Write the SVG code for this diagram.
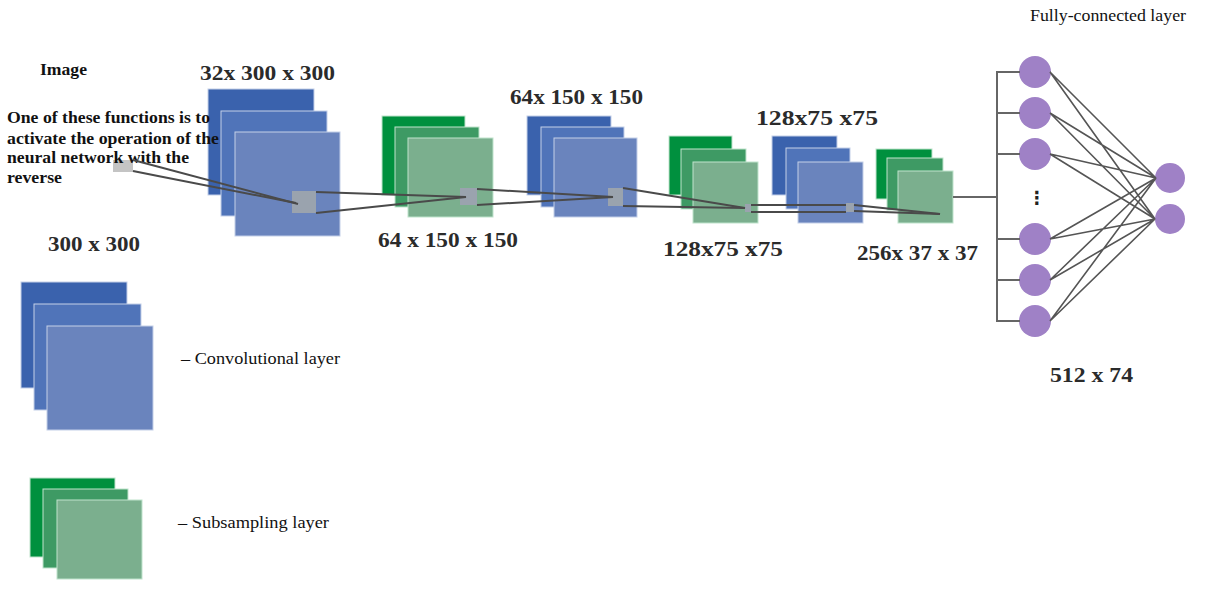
<svg xmlns="http://www.w3.org/2000/svg" width="1207" height="594" viewBox="0 0 1207 594">
<style>
.b1{fill:#3A62AD;stroke:#c3cfe8;stroke-width:1}
.b2{fill:#5074B9;stroke:#c3cfe8;stroke-width:1}
.b3{fill:#6A84BD;stroke:#c3cfe8;stroke-width:1}
.g1{fill:#00903E;stroke:#bfe3cc;stroke-width:1}
.g2{fill:#3E9A64;stroke:#bfe3cc;stroke-width:1}
.g3{fill:#7BAF8E;stroke:#bfe3cc;stroke-width:1}
.k{fill:#9AA3AE}
.ln{stroke:#4a4a4a;stroke-width:2;fill:none}
.fc{stroke:#555;stroke-width:1.6;fill:none}
.br{stroke:#666;stroke-width:2;fill:none}
.n{fill:#9F81C6}
text{font-family:'Liberation Serif','Times New Roman',Times,serif}
.h{font-weight:bold;font-size:20px;fill:#2b2b2b}
.t{font-weight:bold;font-size:16px;fill:#111}
.r{font-size:16px;fill:#111}
</style>
<rect width="1207" height="594" fill="#fff"/>
<g id="conv1">
<rect class="b1" x="208" y="89" width="106" height="106"/>
<rect class="b2" x="221" y="111" width="106" height="105"/>
<rect class="b3" x="235" y="132" width="105" height="104"/>
<rect class="k" x="292" y="191" width="24" height="22"/>
<text class="h" x="200" y="80" textLength="135" lengthAdjust="spacingAndGlyphs">32x 300 x 300</text>
</g>
<g id="image-label">
<rect x="113" y="160" width="20" height="12" fill="#c4c4c4"/>
<text class="t" x="40" y="75" textLength="47" lengthAdjust="spacingAndGlyphs">Image</text>
<text class="t" x="7" y="123" textLength="203" lengthAdjust="spacingAndGlyphs">One of these functions is to</text>
<text class="t" x="7" y="144" textLength="212" lengthAdjust="spacingAndGlyphs">activate the operation of the</text>
<text class="t" x="7" y="163" textLength="182" lengthAdjust="spacingAndGlyphs">neural network with the</text>
<text class="t" x="7" y="183" textLength="55" lengthAdjust="spacingAndGlyphs">reverse</text>
</g>
<g id="sub1">
<rect class="g1" x="382" y="116" width="83" height="79"/>
<rect class="g2" x="395" y="127" width="84" height="80"/>
<rect class="g3" x="408" y="138" width="85" height="79"/>
<rect class="k" x="460" y="188" width="17" height="17" fill="#9AAA9F"/>
<text class="h" x="378" y="247" textLength="140" lengthAdjust="spacingAndGlyphs">64 x 150 x 150</text>
</g>
<g id="conv2">
<rect class="b1" x="527" y="116" width="84" height="79"/>
<rect class="b2" x="541" y="127" width="83" height="80"/>
<rect class="b3" x="554" y="138" width="83" height="79"/>
<rect class="k" x="608" y="188" width="15" height="18"/>
<text class="h" x="510" y="104" textLength="133" lengthAdjust="spacingAndGlyphs">64x 150 x 150</text>
</g>
<g id="sub2">
<rect class="g1" x="669" y="136" width="63" height="59"/>
<rect class="g2" x="681" y="149" width="65" height="60"/>
<rect class="g3" x="693" y="162" width="65" height="61"/>
<rect class="k" x="745" y="204" width="6" height="8"/>
<text class="h" x="663" y="256" textLength="120" lengthAdjust="spacingAndGlyphs">128x75 x75</text>
</g>
<g id="conv3">
<rect class="b1" x="772" y="136" width="65" height="59"/>
<rect class="b2" x="786" y="148" width="64" height="61"/>
<rect class="b3" x="798" y="162" width="65" height="61"/>
<rect class="k" x="846" y="203" width="8" height="9"/>
<text class="h" x="756" y="125" textLength="122" lengthAdjust="spacingAndGlyphs">128x75 x75</text>
</g>
<g id="sub3">
<rect class="g1" x="876" y="149" width="56" height="50"/>
<rect class="g2" x="887" y="158" width="56" height="52"/>
<rect class="g3" x="898" y="171" width="55" height="52"/>
<text class="h" x="857" y="260" textLength="121" lengthAdjust="spacingAndGlyphs">256x 37 x 37</text>
</g>
<g id="fc-layer">
<text class="r" x="1030" y="21" textLength="156" lengthAdjust="spacingAndGlyphs">Fully-connected layer</text>
<circle class="n" cx="1035" cy="72" r="16"/>
<circle class="n" cx="1035" cy="113" r="16"/>
<circle class="n" cx="1035" cy="154" r="16"/>
<circle class="n" cx="1035" cy="239" r="16"/>
<circle class="n" cx="1035" cy="280" r="16"/>
<circle class="n" cx="1035" cy="321" r="16"/>
<text x="1037" y="204" text-anchor="middle" style="font-family:'DejaVu Sans',sans-serif;font-weight:bold;font-size:18px;fill:#222">⋮</text>
<text class="h" x="1050" y="382" textLength="83" lengthAdjust="spacingAndGlyphs">512 x 74</text>
</g>
<g id="output-layer">
<circle class="n" cx="1170" cy="178" r="15"/>
<circle class="n" cx="1170" cy="219" r="15"/>
</g>
<g id="legend-conv">
<rect class="b1" x="21" y="282" width="106" height="106"/>
<rect class="b2" x="34" y="304" width="107" height="106"/>
<rect class="b3" x="47" y="326" width="106" height="104"/>
<text class="h" x="48" y="251" textLength="92" lengthAdjust="spacingAndGlyphs">300 x 300</text>
<text class="r" x="181" y="364" textLength="159" lengthAdjust="spacingAndGlyphs">–  Convolutional layer</text>
</g>
<g id="legend-sub">
<rect class="g1" x="30" y="478" width="85" height="79"/>
<rect class="g2" x="43" y="489" width="85" height="79"/>
<rect class="g3" x="57" y="500" width="85" height="79"/>
<text class="r" x="178" y="528" textLength="151" lengthAdjust="spacingAndGlyphs">–  Subsampling layer</text>
</g>
<g id="connectors">
<path class="ln" d="M133 160 L298 204"/>
<path class="ln" d="M133 171 L158 176 L296 203"/>
<path class="ln" d="M316 192 L466 197"/>
<path class="ln" d="M316 213 L466 197"/>
<path class="ln" d="M477 189 L613 197"/>
<path class="ln" d="M477 205 L613 197"/>
<path class="ln" d="M623 188 L745 208"/>
<path class="ln" d="M623 206 L745 208"/>
<path class="ln" d="M751 205 L846 205"/>
<path class="ln" d="M751 212 L846 212"/>
<path class="ln" d="M854 205 L940 214"/>
<path class="ln" d="M854 211 L940 214"/>
<path class="br" d="M953 197 L997 197 M997 71 L997 322 M997 72 L1020 72 M997 113 L1020 113 M997 154 L1020 154 M997 239 L1020 239 M997 280 L1020 280 M997 321 L1020 321"/>
<path class="fc" d="M1050 72 L1156 178 M1050 72 L1155 219 M1050 113 L1156 178 M1050 113 L1155 219 M1050 154 L1156 178 M1050 154 L1155 219 M1050 239 L1156 178 M1050 239 L1155 219 M1050 280 L1156 178 M1050 280 L1155 219 M1050 321 L1156 178 M1050 321 L1155 219"/>
</g>
</svg>
